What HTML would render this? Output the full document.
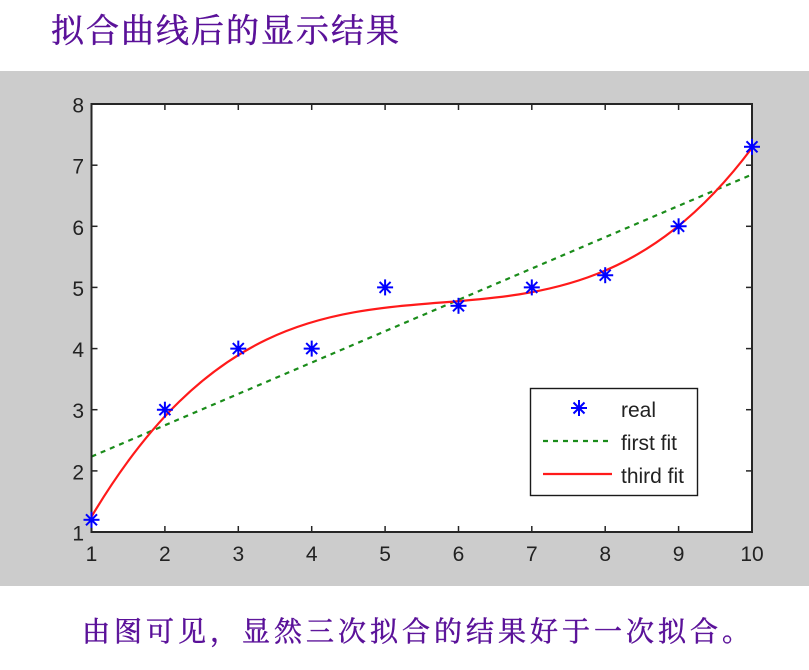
<!DOCTYPE html>
<html>
<head>
<meta charset="utf-8">
<style>
  html, body { margin:0; padding:0; }
  body { width:809px; height:670px; overflow:hidden; background:#ffffff; position:relative; }
  .cn { position:absolute; white-space:nowrap; color:#5a1199;
        font-family:"Liberation Serif","Noto Serif CJK SC",serif;
        -webkit-text-stroke:0.5px #5a1199; }
  #title { left:51px; top:15px; font-size:33px; line-height:34px; letter-spacing:2px; }
  #note { left:82px; top:619px; font-size:28px; line-height:28px; letter-spacing:4px; }
  svg { position:absolute; left:0; top:0; }
  svg text { font-family:"Liberation Sans", sans-serif; fill:#222222; }
</style>
</head>
<body>
<svg width="809" height="670" viewBox="0 0 809 670" xmlns="http://www.w3.org/2000/svg">
  <rect x="0" y="71" width="809" height="515" fill="#cccccc"/>
  <rect x="91.5" y="104" width="660.5" height="428" fill="#ffffff"/>

  <g stroke="#262626" stroke-width="1.5">
    <line x1="164.9" y1="532" x2="164.9" y2="526"/><line x1="164.9" y1="104" x2="164.9" y2="110"/>
    <line x1="238.3" y1="532" x2="238.3" y2="526"/><line x1="238.3" y1="104" x2="238.3" y2="110"/>
    <line x1="311.7" y1="532" x2="311.7" y2="526"/><line x1="311.7" y1="104" x2="311.7" y2="110"/>
    <line x1="385.1" y1="532" x2="385.1" y2="526"/><line x1="385.1" y1="104" x2="385.1" y2="110"/>
    <line x1="458.5" y1="532" x2="458.5" y2="526"/><line x1="458.5" y1="104" x2="458.5" y2="110"/>
    <line x1="531.8" y1="532" x2="531.8" y2="526"/><line x1="531.8" y1="104" x2="531.8" y2="110"/>
    <line x1="605.2" y1="532" x2="605.2" y2="526"/><line x1="605.2" y1="104" x2="605.2" y2="110"/>
    <line x1="678.6" y1="532" x2="678.6" y2="526"/><line x1="678.6" y1="104" x2="678.6" y2="110"/>
    <line x1="91.5" y1="470.9" x2="97.5" y2="470.9"/><line x1="752" y1="470.9" x2="746" y2="470.9"/>
    <line x1="91.5" y1="409.7" x2="97.5" y2="409.7"/><line x1="752" y1="409.7" x2="746" y2="409.7"/>
    <line x1="91.5" y1="348.6" x2="97.5" y2="348.6"/><line x1="752" y1="348.6" x2="746" y2="348.6"/>
    <line x1="91.5" y1="287.4" x2="97.5" y2="287.4"/><line x1="752" y1="287.4" x2="746" y2="287.4"/>
    <line x1="91.5" y1="226.3" x2="97.5" y2="226.3"/><line x1="752" y1="226.3" x2="746" y2="226.3"/>
    <line x1="91.5" y1="165.2" x2="97.5" y2="165.2"/><line x1="752" y1="165.2" x2="746" y2="165.2"/>
  </g>

  <line x1="91.5" y1="456.6" x2="752" y2="174.5" stroke="#1a8c1a" stroke-width="2.2" stroke-dasharray="5,5"/>
  <path d="M91.5,516.64 C311.7,147.25 531.8,442.21 752,147.85" fill="none" stroke="#ff1a1a" stroke-width="2.2"/>

  <rect x="91.5" y="104" width="660.5" height="428" fill="none" stroke="#262626" stroke-width="2"/>

  <defs>
    <g id="star" stroke="#0000ff" stroke-width="2" fill="none">
      <line x1="-8" y1="0" x2="8" y2="0"/>
      <line x1="0" y1="-8" x2="0" y2="8"/>
      <line x1="-5.5" y1="-5.5" x2="5.5" y2="5.5"/>
      <line x1="-5.5" y1="5.5" x2="5.5" y2="-5.5"/>
      <circle cx="0" cy="0" r="2.8" fill="#0000ff" stroke="none"/>
    </g>
  </defs>
  <use href="#star" x="91.5" y="519.8"/>
  <use href="#star" x="164.9" y="409.7"/>
  <use href="#star" x="238.3" y="348.6"/>
  <use href="#star" x="311.7" y="348.6"/>
  <use href="#star" x="385.1" y="287.4"/>
  <use href="#star" x="458.5" y="305.8"/>
  <use href="#star" x="531.8" y="287.4"/>
  <use href="#star" x="605.2" y="275.2"/>
  <use href="#star" x="678.6" y="226.3"/>
  <use href="#star" x="752" y="146.8"/>

  <g font-size="21" text-anchor="end">
    <text x="84" y="540.5">1</text>
    <text x="84" y="479.4">2</text>
    <text x="84" y="418.2">3</text>
    <text x="84" y="357.1">4</text>
    <text x="84" y="295.9">5</text>
    <text x="84" y="234.8">6</text>
    <text x="84" y="173.7">7</text>
    <text x="84" y="112.5">8</text>
  </g>
  <g font-size="21" text-anchor="middle">
    <text x="91.5" y="561">1</text>
    <text x="164.9" y="561">2</text>
    <text x="238.3" y="561">3</text>
    <text x="311.7" y="561">4</text>
    <text x="385.1" y="561">5</text>
    <text x="458.5" y="561">6</text>
    <text x="531.8" y="561">7</text>
    <text x="605.2" y="561">8</text>
    <text x="678.6" y="561">9</text>
    <text x="752" y="561">10</text>
  </g>

  <rect x="530.5" y="388.5" width="167" height="107" fill="#ffffff" stroke="#1a1a1a" stroke-width="1.4"/>
  <use href="#star" x="579" y="408"/>
  <line x1="543" y1="441" x2="611" y2="441" stroke="#1a8c1a" stroke-width="2.2" stroke-dasharray="5,5"/>
  <line x1="543" y1="474" x2="612" y2="474" stroke="#ff1a1a" stroke-width="2.2"/>
  <g font-size="21">
    <text x="621" y="417">real</text>
    <text x="621" y="450">first fit</text>
    <text x="621" y="483">third fit</text>
  </g>
</svg>

<div class="cn" id="title">拟合曲线后的显示结果</div>
<div class="cn" id="note">由图可见，显然三次拟合的结果好于一次拟合。</div>
</body>
</html>
